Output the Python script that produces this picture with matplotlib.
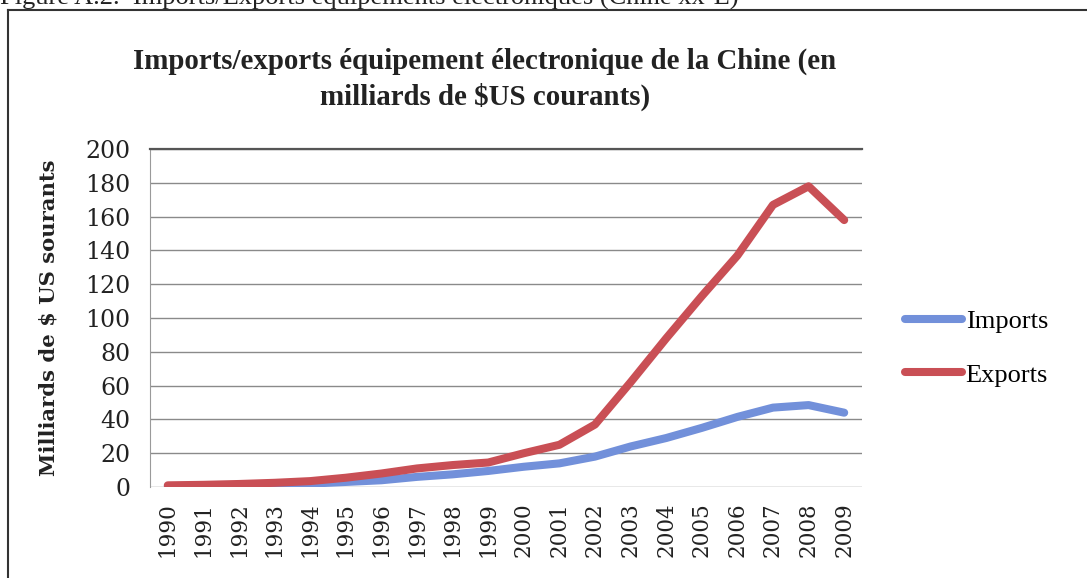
import matplotlib.pyplot as plt
from matplotlib.lines import Line2D

annees = [str(a) for a in range(1990, 2010)]
imports = [0.5, 0.8, 1.0, 1.5, 2.0, 3.0, 4.0, 6.0, 7.5, 9.5,
           12.0, 14.0, 18.0, 24.0, 29.0, 35.0, 41.5, 47.0, 48.5, 44.0]
exports = [1.0, 1.3, 1.8, 2.5, 3.5, 5.5, 8.0, 11.0, 13.0, 14.5,
           20.0, 25.0, 37.0, 62.0, 88.0, 113.0, 137.0, 167.0, 178.0, 158.0]

fig = plt.figure(figsize=(10.87, 5.78), dpi=100)
ax = fig.add_axes([0.138, 0.1574, 0.655, 0.5846])

x = range(len(annees))
ax.plot(x, imports, color='#7290da', lw=5.8, solid_capstyle='round', label='Imports')
ax.plot(x, exports, color='#c94f55', lw=5.8, solid_capstyle='round', label='Exports')

ax.set_xlim(-0.5, len(annees) - 0.5)
ax.set_ylim(0, 200)
ax.set_yticks(range(0, 201, 20))
ax.set_xticks(list(x))
ax.set_xticklabels(annees, rotation=90)
ax.grid(axis='y', color='#8a8a8a', lw=1)
ax.set_axisbelow(True)
ax.tick_params(axis='y', length=0, labelsize=17, pad=14)
ax.tick_params(axis='x', length=0, labelsize=15.5, pad=11)
for lab in ax.get_xticklabels() + ax.get_yticklabels():
    lab.set_family('DejaVu Serif')
    lab.set_color('#222222')

ax.spines['right'].set_visible(False)
ax.spines['bottom'].set_visible(False)
ax.spines['left'].set_color('#9a9a9a')
ax.spines['top'].set_color('#555555')
ax.spines['top'].set_linewidth(1.6)

ax.set_ylabel('Milliards de $ US sourants', fontsize=15.2, fontweight='bold',
              family='DejaVu Serif', labelpad=19, color='#222222')

fig.text(0.446, 0.862, 'Imports/exports équipement électronique de la Chine (en\nmilliards de $US courants)',
         ha='center', va='center', fontsize=20.8, fontweight='bold',
         family='Liberation Serif', linespacing=1.35, color='#222222')

fig.legend(loc='center left', bbox_to_anchor=(905 / 1087, 1 - 348 / 578), frameon=False,
           prop={'family': 'Liberation Serif', 'size': 19}, handlelength=2.15,
           labelspacing=1.15, handletextpad=0.15, borderpad=0, borderaxespad=0)

# légende de la figure, coupée en haut du scan
fig.text(0.0, 1 - 5 / 578, 'Figure A.2.  Imports/Exports équipements électroniques (Chine xx-E)',
         ha='left', va='baseline', fontsize=19, family='Liberation Serif', color='#222222')

# cadre du graphique
fig.add_artist(Line2D([8 / 1087, 8 / 1087], [0, 1 - 10 / 578], transform=fig.transFigure,
                      color='#333333', lw=1.5))
fig.add_artist(Line2D([8 / 1087, 1], [1 - 10 / 578, 1 - 10 / 578], transform=fig.transFigure,
                      color='#333333', lw=1.5))

fig.savefig('out.png', dpi=100)
